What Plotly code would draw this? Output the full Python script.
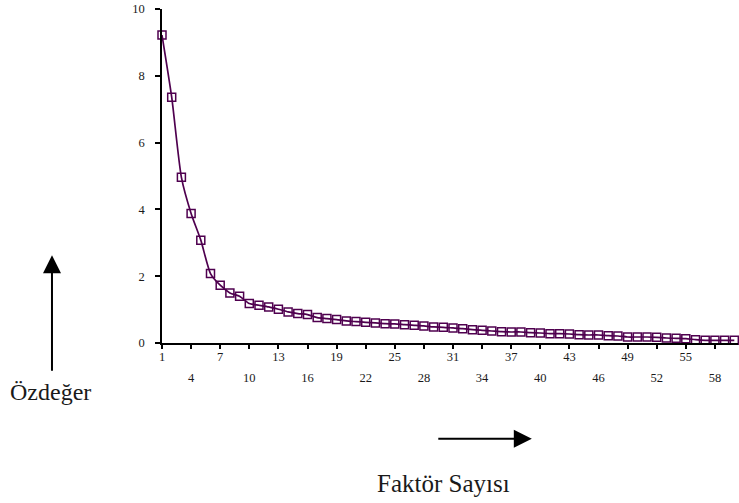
import plotly.graph_objects as go

# Factor numbers and eigenvalues (scree plot)
factors = list(range(1, 61))
eigenvalues = [
    9.22, 7.36, 4.96, 3.88, 3.08, 2.08, 1.73, 1.50, 1.40, 1.18,
    1.13, 1.08, 1.01, 0.93, 0.88, 0.85, 0.76, 0.73, 0.70, 0.66,
    0.64, 0.62, 0.60, 0.58, 0.57, 0.55, 0.53, 0.51, 0.48, 0.47,
    0.45, 0.43, 0.40, 0.38, 0.36, 0.34, 0.33, 0.33, 0.31, 0.30,
    0.28, 0.28, 0.27, 0.25, 0.24, 0.24, 0.22, 0.21, 0.18, 0.18,
    0.18, 0.17, 0.15, 0.14, 0.13, 0.10, 0.08, 0.08, 0.08, 0.08,
]

x_ticks_row1 = [1, 7, 13, 19, 25, 31, 37, 43, 49, 55]
x_ticks_row2 = [4, 10, 16, 22, 28, 34, 40, 46, 52, 58]
y_ticks = [0, 2, 4, 6, 8, 10]

y_label = "Özdeğer"
x_label = "Faktör Sayısı"

SERIF = "Liberation Serif, Times New Roman, serif"
PURPLE = "#4f004f"
TXT = "#1a1a1a"

fig = go.Figure()
fig.add_trace(go.Scatter(
    x=factors, y=eigenvalues, mode="lines+markers",
    line=dict(color=PURPLE, width=1.7, shape="spline", smoothing=0.6),
    marker=dict(symbol="square-open", size=8, color=PURPLE,
                line=dict(color=PURPLE, width=1.5)),
    showlegend=False, cliponaxis=False,
))
# empty trace so that the second (staggered label) axis is drawn
fig.add_trace(go.Scatter(x=[], y=[], xaxis="x2", yaxis="y",
                         showlegend=False, hoverinfo="skip"))

all_ticks = sorted(x_ticks_row1 + x_ticks_row2)
row1_text = [str(t) if t in x_ticks_row1 else "" for t in all_ticks]

x_range = [1, 60.38]

fig.update_layout(
    width=739, height=503,
    margin=dict(l=162, r=1, t=9, b=160),
    paper_bgcolor="white", plot_bgcolor="white",
    font=dict(family=SERIF, size=12.5, color=TXT),
    xaxis=dict(
        range=x_range, showgrid=False, zeroline=False,
        showline=True, linecolor="black", linewidth=1.5,
        ticks="outside", ticklen=4, tickwidth=1.5, tickcolor="black",
        tickvals=all_ticks, ticktext=row1_text, ticklabelstandoff=-3,
        tickfont=dict(family=SERIF, size=12.5, color=TXT),
    ),
    xaxis2=dict(
        range=x_range, overlaying="x", anchor="y", side="bottom",
        showgrid=False, zeroline=False, showline=False, ticks="",
        tickvals=x_ticks_row2, ticktext=[str(t) for t in x_ticks_row2],
        ticklabelstandoff=25,
        tickfont=dict(family=SERIF, size=12.5, color=TXT),
    ),
    yaxis=dict(
        range=[0, 10], showgrid=False, zeroline=False,
        showline=True, linecolor="black", linewidth=1.5,
        ticks="outside", ticklen=5, tickwidth=1.5, tickcolor="black",
        tickvals=y_ticks, ticklabelstandoff=8, ticklabeloverflow="allow",
        tickfont=dict(family=SERIF, size=12.5, color=TXT),
    ),
)

# vertical arrow (Özdeğer)
fig.add_annotation(
    xref="paper", yref="paper", x=-0.191, y=0.263,
    axref="pixel", ayref="pixel", ax=0, ay=117,
    showarrow=True, arrowhead=2, arrowsize=1.8, arrowwidth=2,
    arrowcolor="black", text="",
)
fig.add_annotation(
    xref="paper", yref="paper", x=-0.194, y=-0.147,
    xanchor="center", yanchor="middle",
    text=y_label, showarrow=False,
    font=dict(family=SERIF, size=24, color=TXT),
)
# horizontal arrow (Faktör Sayısı)
fig.add_annotation(
    xref="paper", yref="paper", x=0.642, y=-0.287,
    axref="pixel", ayref="pixel", ax=-95, ay=0,
    showarrow=True, arrowhead=2, arrowsize=1.8, arrowwidth=2,
    arrowcolor="black", text="",
)
fig.add_annotation(
    xref="paper", yref="paper", x=0.488, y=-0.422,
    xanchor="center", yanchor="middle",
    text=x_label, showarrow=False,
    font=dict(family=SERIF, size=25, color=TXT),
)

fig.write_html("out.html", config={"displayModeBar": False},
               post_script="document.body.style.margin='0';")
